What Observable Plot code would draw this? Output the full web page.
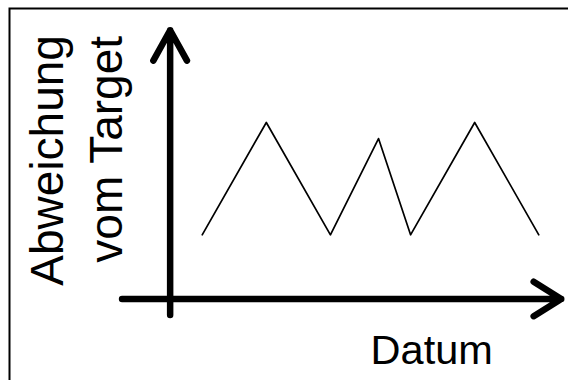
<!DOCTYPE html>
<html>
<head>
<meta charset="utf-8">
<script src="https://cdn.jsdelivr.net/npm/d3@7"></script>
<script src="https://cdn.jsdelivr.net/npm/@observablehq/plot@0.6"></script>
<style>
  html, body { margin: 0; padding: 0; background: #fff; }
  svg { display: block; }
</style>
</head>
<body>
<div id="chart"></div>
<script>
// Data (schematic: date steps vs deviation from target)
const dates = [0, 4, 8, 11, 13, 17, 21];
const deviation = [0, 7, 0, 6, 0, 7, 0];

// Axis arrows (data coordinates)
const xAxisStart = -5, xAxisEnd = 22.4, xAxisY = -4;
const yAxisStart = -5, yAxisEnd = 12.75, yAxisX = -2;

// Labels
const xLabel = "Datum";
const yLabelLines = ["Abweichung", "vom Target"];

const series = dates.map((d, i) => ({date: d, value: deviation[i]}));

const font = "'Liberation Sans', Arial, Helvetica, sans-serif";

const chart = Plot.plot({
  width: 568,
  height: 380,
  marginTop: 8,
  marginLeft: 9,
  marginRight: 0,
  marginBottom: 0,
  style: {fontFamily: font, background: "#fff", color: "#000"},
  x: {domain: [0, 21], range: [201.7, 538.3], axis: null},
  y: {domain: [0, 7], range: [234.3, 122], axis: null},
  marks: [
    Plot.frame({stroke: "#000", strokeWidth: 2, insetRight: -10, insetBottom: -10}),
    Plot.line(series, {x: "date", y: "value", stroke: "#000", strokeWidth: 1.7}),
    Plot.arrow([{x1: xAxisStart, y1: xAxisY, x2: xAxisEnd, y2: xAxisY}], {
      x1: "x1", y1: "y1", x2: "x2", y2: "y2",
      stroke: "#000", strokeWidth: 6.5, headLength: 7.5, headAngle: 64
    }),
    Plot.arrow([{x1: yAxisX, y1: yAxisStart, x2: yAxisX, y2: yAxisEnd}], {
      x1: "x1", y1: "y1", x2: "x2", y2: "y2",
      stroke: "#000", strokeWidth: 6.5, headLength: 8, headAngle: 58
    }),
    Plot.text([xLabel], {x: 14.32, y: -7.23, text: d => d, fontSize: 41.5, fill: "#000", textAnchor: "middle", lineAnchor: "middle"}),
    Plot.text([yLabelLines[0]], {x: -9.6, y: 4.64, text: d => d, fontSize: 46, rotate: -90, fill: "#000", textAnchor: "middle", lineAnchor: "middle"}),
    Plot.text([yLabelLines[1]], {x: -5.94, y: 5.33, text: d => d, fontSize: 46, rotate: -90, fill: "#000", textAnchor: "middle", lineAnchor: "middle"})
  ]
});
document.getElementById("chart").appendChild(chart);
</script>
</body>
</html>
